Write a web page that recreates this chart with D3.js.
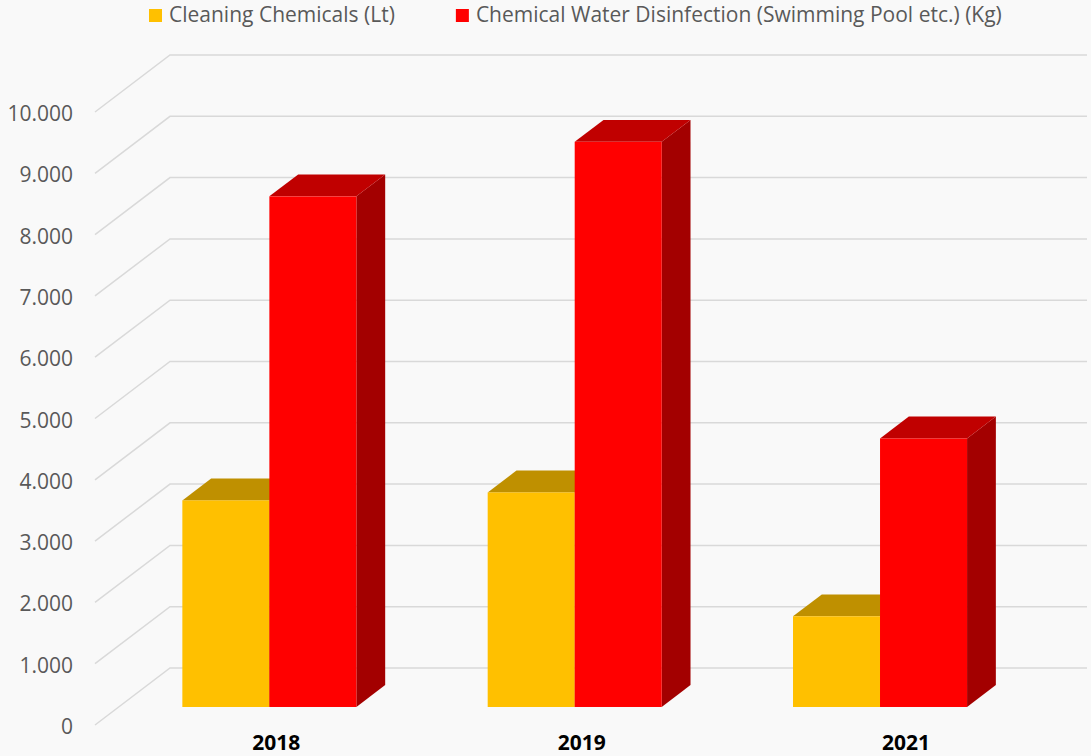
<!DOCTYPE html>
<html>
<head>
<meta charset="utf-8">
<script src="https://cdn.jsdelivr.net/npm/d3@7/dist/d3.min.js"></script>
<style>
  html, body { margin: 0; padding: 0; background: #F9F9F9; }
  svg { display: block; }
  text { font-family: "Open Sans", "Noto Sans", sans-serif; }
</style>
</head>
<body>
<svg id="chart" width="1091" height="756"></svg>
<script>
// ---- data ----
const categories = ["2018", "2019", "2021"];
const seriesNames = ["Cleaning Chemicals (Lt)", "Chemical Water Disinfection (Swimming Pool etc.) (Kg)"];
const cleaningValues = [3370, 3500, 1480];
const disinfectionValues = [8330, 9220, 4380];
const yTickValues = [0, 1000, 2000, 3000, 4000, 5000, 6000, 7000, 8000, 9000, 10000];

// ---- style ----
const seriesColors = [
  { front: "#FFC000", top: "#BF9000", side: "#A67C00" },
  { front: "#FF0000", top: "#C00000", side: "#A30000" }
];
const textColor = "#595959";
const gridColor = "#D9D9D9";

const W = 1091, H = 756;
const svg = d3.select("#chart");
svg.append("rect").attr("width", W).attr("height", H).attr("fill", "#F9F9F9");

// 3D oblique projection
const depthDx = 75, depthDy = -57;
const wallLeft = 95, wallRight = 1013;
const y = d3.scaleLinear().domain([0, 10000]).range([725, 112]);
const x = d3.scaleBand().domain(categories).range([93, 1009]).paddingInner(0.43).paddingOuter(0.215);
const xs = d3.scaleBand().domain(seriesNames).range([0, x.bandwidth()]);
const d0 = 0.316, d1 = 0.70; // bar depth extent

function proj(px, v, d) { return [px + d * depthDx, y(v) + d * depthDy]; }

const fmt = d3.formatLocale({ decimal: ",", thousands: ".", grouping: [3], currency: ["", ""] }).format(",");

// gridlines (side wall diagonals + back wall horizontals)
const grid = svg.append("g");
yTickValues.forEach(v => {
  const a = proj(wallLeft, v, 0), b = proj(wallLeft, v, 1), c = proj(wallRight, v, 1);
  grid.append("polyline")
    .attr("points", [a, b, [c[0] - 1, c[1]]].map(p => p.join(",")).join(" "))
    .attr("fill", "none").attr("stroke", gridColor).attr("stroke-width", 1.5);
});

// y tick labels
svg.append("g").selectAll("text").data(yTickValues).join("text")
  .attr("x", 73).attr("y", d => y(d) + 1)
  .attr("text-anchor", "end").attr("dominant-baseline", "central")
  .attr("font-size", 21).attr("fill", textColor)
  .text(d => fmt(d));

// bars
const seriesData = [cleaningValues, disinfectionValues];
const bars = svg.append("g");
categories.forEach((cat, ci) => {
  seriesNames.forEach((s, si) => {
    const v = seriesData[si][ci];
    const col = seriesColors[si];
    const xl = x(cat) + xs(s), xr = xl + xs.bandwidth();
    const ftl = proj(xl, v, d0), ftr = proj(xr, v, d0), fbr = proj(xr, 0, d0);
    const btl = proj(xl, v, d1), btr = proj(xr, v, d1), bbr = proj(xr, 0, d1);
    const g = bars.append("g");
    g.append("polygon").attr("points", [ftr, btr, bbr, fbr].map(p => p.join(",")).join(" ")).attr("fill", col.side);
    g.append("polygon").attr("points", [ftl, ftr, btr, btl].map(p => p.join(",")).join(" ")).attr("fill", col.top);
    g.append("rect").attr("x", ftl[0]).attr("y", ftl[1]).attr("width", xr - xl).attr("height", fbr[1] - ftl[1]).attr("fill", col.front);
  });
});

// category labels (the last label sits a little further right in the original)
svg.append("g").selectAll("text").data(categories).join("text")
  .attr("x", (d, i) => proj(x(d) + x.bandwidth() / 2, 0, d0)[0] + (i === categories.length - 1 ? 26 : 7))
  .attr("y", 750)
  .attr("text-anchor", "middle")
  .attr("font-size", 21).attr("font-weight", "bold").attr("fill", "#000")
  .text(d => d);

// legend
const legend = svg.append("g");
let lx = 149;
seriesNames.forEach((s, si) => {
  legend.append("rect").attr("x", lx).attr("y", 9).attr("width", 13).attr("height", 13).attr("fill", seriesColors[si].front);
  const t = legend.append("text").attr("x", lx + 20).attr("y", 22)
    .attr("font-size", 21).attr("fill", textColor).text(s);
  lx = lx + 20 + t.node().getComputedTextLength() + 61;
});
</script>
</body>
</html>
